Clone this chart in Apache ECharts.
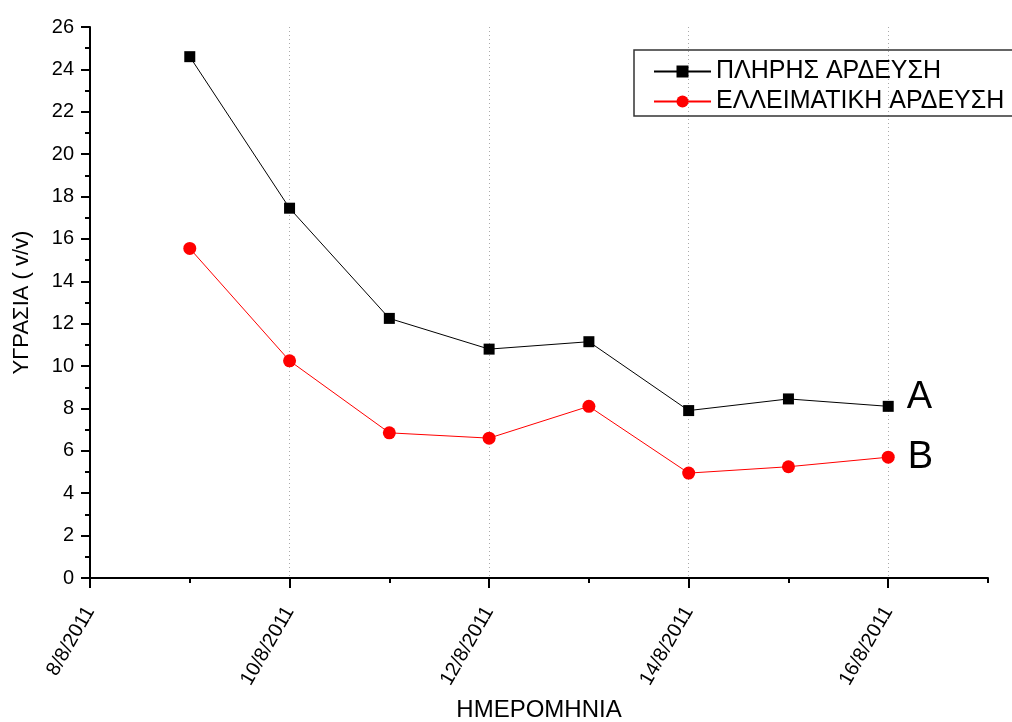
<!DOCTYPE html>
<html>
<head>
<meta charset="utf-8">
<script src="https://cdn.jsdelivr.net/npm/echarts@6/dist/echarts.min.js"></script>
<style>html,body{margin:0;padding:0;background:#fff;overflow:hidden}#c{width:1012px;height:722px}</style>
</head>
<body>
<div id="c"></div>
<script>
const axisDays = ['8/8/2011','9/8/2011','10/8/2011','11/8/2011','12/8/2011','13/8/2011','14/8/2011','15/8/2011','16/8/2011','17/8/2011'];
const dates = ['9/8/2011','10/8/2011','11/8/2011','12/8/2011','13/8/2011','14/8/2011','15/8/2011','16/8/2011'];
const fullIrrigation = [24.6, 17.45, 12.25, 10.8, 11.15, 7.9, 8.45, 8.1];
const deficitIrrigation = [15.55, 10.25, 6.85, 6.6, 8.1, 4.95, 5.25, 5.7];
const seriesNames = ['ΠΛΗΡΗΣ ΑΡΔΕΥΣΗ', 'ΕΛΛΕΙΜΑΤΙΚΗ ΑΡΔΕΥΣΗ'];
const endLabels = ['A', 'B'];
const yTicks = {min: 0, max: 26, interval: 2};
const xTitle = 'ΗΜΕΡΟΜΗΝΙΑ';
const yTitle = 'ΥΓΡΑΣΙΑ ( v/v)';

const FONT = 'Liberation Sans, Arial, sans-serif';

function buildData(vals, endLabel, labelOffset) {
  return vals.map((v, i) => {
    const item = {value: [dates[i], v]};
    if (i === vals.length - 1) {
      item.label = {show: true, position: 'right', distance: 13, formatter: endLabel,
        fontSize: 38, color: '#000', fontFamily: FONT, offset: labelOffset};
    }
    return item;
  });
}

const chart = echarts.init(document.getElementById('c'), null, {renderer: 'canvas'});
chart.setOption({
  animation: false,
  backgroundColor: '#fff',
  grid: {left: 90, right: 24, top: 27, bottom: 144, containLabel: false, outerBoundsMode: 'none'},
  legend: {
    orient: 'vertical', left: 634, top: 50,
    borderWidth: 0,
    padding: [9, 0, 3, 19],
    itemWidth: 57, itemHeight: 15, itemGap: 5,
    textStyle: {fontSize: 25, fontFamily: FONT, color: '#000', lineHeight: 25},
    data: seriesNames
  },
  graphic: [{
    type: 'rect', z: 100, silent: true,
    shape: {x: 634, y: 50, width: 420, height: 66},
    style: {fill: 'none', stroke: '#333', lineWidth: 1.5}
  }],
  xAxis: [{
    type: 'category', data: axisDays, boundaryGap: false,
    name: xTitle, nameLocation: 'middle', nameGap: 120,
    nameTextStyle: {fontSize: 24, fontFamily: FONT, color: '#000'},
    axisLine: {lineStyle: {color: '#000', width: 2}},
    axisTick: {show: true, length: 10, lineStyle: {width: 2, color: '#000'},
      interval: (i) => i % 2 === 0},
    axisLabel: {interval: (i) => i % 2 === 0, rotate: 60, margin: 30,
      fontSize: 20, fontFamily: FONT, color: '#000'},
    splitLine: {show: true, interval: (i) => i % 2 === 0 && i > 0,
      lineStyle: {type: [1, 3], color: '#aaa', width: 1}}
  }, {
    type: 'category', data: axisDays, boundaryGap: false, position: 'bottom',
    axisLine: {show: false},
    axisTick: {show: true, length: 5, lineStyle: {width: 2, color: '#000'}, interval: 0},
    axisLabel: {show: false},
    splitLine: {show: false}
  }],
  yAxis: {
    type: 'value', min: yTicks.min, max: yTicks.max, interval: yTicks.interval,
    name: yTitle, nameLocation: 'middle', nameGap: 57, nameRotate: 90,
    nameTextStyle: {fontSize: 22, fontFamily: FONT, color: '#000'},
    axisLine: {show: true, lineStyle: {color: '#000', width: 2}},
    axisTick: {show: true, length: 9, lineStyle: {width: 2, color: '#000'}},
    minorTick: {show: true, splitNumber: 2, length: 5, lineStyle: {width: 2, color: '#000'}},
    axisLabel: {margin: 16, fontSize: 20, fontFamily: FONT, color: '#000'},
    splitLine: {show: false}
  },
  series: [{
    name: seriesNames[0], type: 'line', xAxisIndex: 0,
    data: buildData(fullIrrigation, endLabels[0], [0, -9]),
    symbol: 'rect', symbolSize: 11,
    itemStyle: {color: '#000'}, lineStyle: {color: '#000', width: 1}
  }, {
    name: seriesNames[1], type: 'line', xAxisIndex: 0,
    data: buildData(deficitIrrigation, endLabels[1], [0, 0]),
    symbol: 'circle', symbolSize: 13,
    itemStyle: {color: '#ff0000'}, lineStyle: {color: '#ff0000', width: 1}
  }]
});
</script>
</body>
</html>
